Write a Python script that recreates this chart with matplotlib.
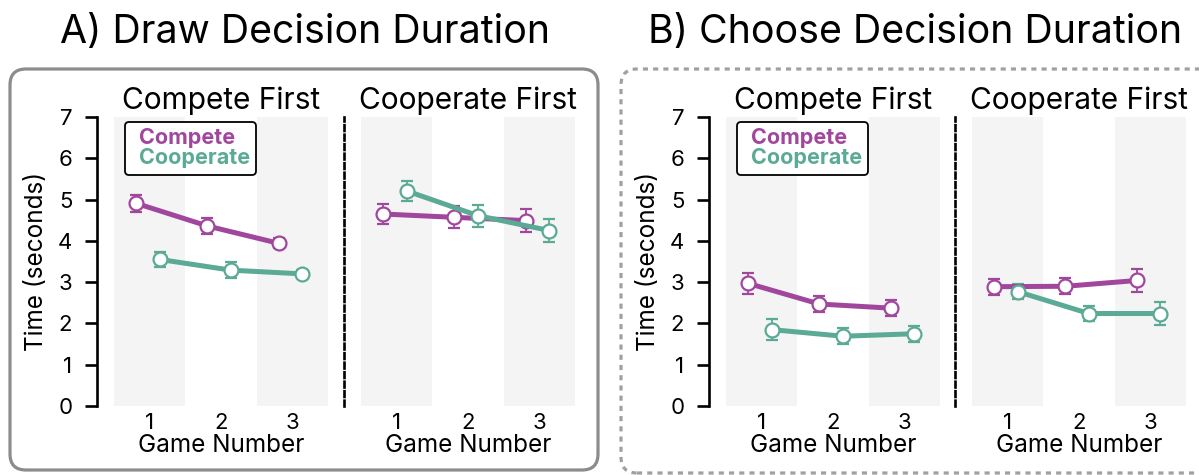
import matplotlib
matplotlib.use('Agg')
import matplotlib.pyplot as plt
from matplotlib.patches import FancyBboxPatch
from matplotlib.transforms import IdentityTransform
from matplotlib.lines import Line2D

plt.rcParams['font.family'] = ['Inter', 'DejaVu Sans']

games = [1, 2, 3]
panel_titles = ['A) Draw Decision Duration', 'B) Choose Decision Duration']
sub_titles = ['Compete First', 'Cooperate First']
series_names = ['Compete', 'Cooperate']

# A) Draw decision duration
draw_cmpfirst_compete = [4.91, 4.36, 3.94]
draw_cmpfirst_compete_err = [0.20, 0.20, 0.12]
draw_cmpfirst_coop = [3.55, 3.29, 3.20]
draw_cmpfirst_coop_err = [0.19, 0.20, 0.10]
draw_coopfirst_compete = [4.65, 4.57, 4.49]
draw_coopfirst_compete_err = [0.24, 0.27, 0.28]
draw_coopfirst_coop = [5.21, 4.61, 4.25]
draw_coopfirst_coop_err = [0.24, 0.27, 0.28]

# B) Choose decision duration
choose_cmpfirst_compete = [2.97, 2.47, 2.37]
choose_cmpfirst_compete_err = [0.25, 0.20, 0.19]
choose_cmpfirst_coop = [1.85, 1.69, 1.75]
choose_cmpfirst_coop_err = [0.26, 0.20, 0.19]
choose_coopfirst_compete = [2.89, 2.90, 3.04]
choose_coopfirst_compete_err = [0.19, 0.19, 0.27]
choose_coopfirst_coop = [2.77, 2.24, 2.24]
choose_coopfirst_coop_err = [0.18, 0.18, 0.27]

COMPETE_C = '#a0479d'
COOP_C = '#5aaa95'
BAND_C = '#f4f4f4'

panels = [
    [(draw_cmpfirst_compete, draw_cmpfirst_compete_err, draw_cmpfirst_coop, draw_cmpfirst_coop_err),
     (draw_coopfirst_compete, draw_coopfirst_compete_err, draw_coopfirst_coop, draw_coopfirst_coop_err)],
    [(choose_cmpfirst_compete, choose_cmpfirst_compete_err, choose_cmpfirst_coop, choose_cmpfirst_coop_err),
     (choose_coopfirst_compete, choose_coopfirst_compete_err, choose_coopfirst_coop, choose_coopfirst_coop_err)],
]

W, H = 1199, 475
fig = plt.figure(figsize=(W / 100, H / 100), dpi=100)

ax_lefts = [[114, 361], [726, 972]]
ax_w = 214
ax_top, ax_bot = 117, 406

offsets = [-0.19, 0.14]

for p in range(2):
    for s in range(2):
        left = ax_lefts[p][s]
        ax = fig.add_axes([left / W, (H - ax_bot) / H, ax_w / W, (ax_bot - ax_top) / H])
        ax.axvspan(0.5, 1.5, color=BAND_C, zorder=0, lw=0)
        ax.axvspan(2.5, 3.5, color=BAND_C, zorder=0, lw=0)
        cm, cme, co, coe = panels[p][s]
        for vals, errs, col, off in [(cm, cme, COMPETE_C, offsets[0]), (co, coe, COOP_C, offsets[1])]:
            xs = [g + off for g in games]
            ax.errorbar(xs, vals, yerr=errs, fmt='-o', color=col, lw=3.6, ms=10,
                        mfc='white', mec=col, mew=1.6, elinewidth=1.3, capsize=4.5,
                        capthick=1.3, zorder=3)
        ax.set_xlim(0.5, 3.5)
        ax.set_ylim(0, 7)
        for sp in ['top', 'right', 'bottom']:
            ax.spines[sp].set_visible(False)
        ax.spines['left'].set_position(('outward', 12))
        ax.spines['left'].set_linewidth(1.9)
        ax.set_xticks(games)
        ax.tick_params(axis='x', length=0, pad=5, labelsize=16)
        ax.set_xlabel('Game Number', fontsize=17.5, labelpad=1)
        ax.set_title(sub_titles[s], fontsize=21.5, pad=6)
        if s == 0:
            ax.set_yticks(range(0, 8))
            ax.tick_params(axis='y', length=9, width=1.9, pad=9, labelsize=16)
            ax.set_ylabel('Time (seconds)', fontsize=17.5, labelpad=7)
            handles = [Line2D([], [], color=COMPETE_C), Line2D([], [], color=COOP_C)]
            leg = ax.legend(handles, series_names, loc='upper left',
                            bbox_to_anchor=(0.051, 0.983), borderaxespad=0,
                            handlelength=0, handletextpad=0.35,
                            labelcolor=[COMPETE_C, COOP_C],
                            prop={'weight': 'bold', 'size': 15.5},
                            frameon=True, fancybox=True, framealpha=1,
                            edgecolor='black', labelspacing=0.0, borderpad=0.3)
            leg.get_frame().set_linewidth(1.3)
        else:
            ax.set_yticks([])
            ax.spines['left'].set_linestyle((0, (2.2, 1.4)))

# Panel boxes
boxA = FancyBboxPatch((10, H - 470), 588, 470 - 69,
                      boxstyle='round,pad=0,rounding_size=16',
                      transform=IdentityTransform(), fill=False,
                      ec='#8c8c8c', lw=2.3)
fig.patches.append(boxA)
boxB = FancyBboxPatch((621, H - 473), 620, 473 - 69,
                      boxstyle='round,pad=0,rounding_size=16',
                      transform=IdentityTransform(), fill=False,
                      ec='#a0a0a0', lw=2.3, linestyle=(0, (1.6, 1.6)))
fig.patches.append(boxB)

fig.text(305 / W, 1 - 33 / H, panel_titles[0], ha='center', va='center', fontsize=28.3)
fig.text(915 / W, 1 - 33 / H, panel_titles[1], ha='center', va='center', fontsize=28.3)

fig.savefig('out.png', dpi=100)
